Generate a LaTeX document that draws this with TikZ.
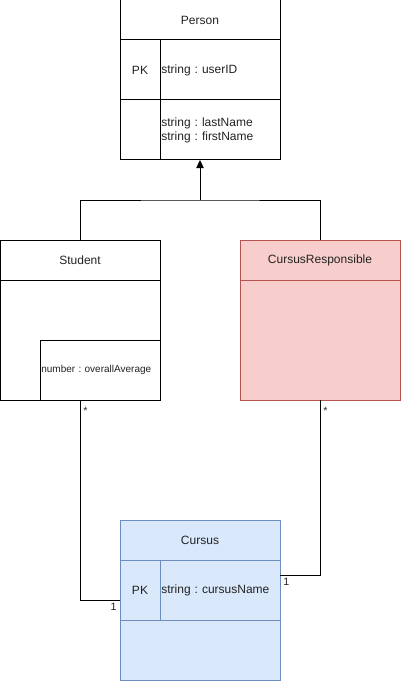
\documentclass[tikz,border=0pt]{standalone}
\usepackage{fontspec}
\setmainfont{Liberation Sans}
\usetikzlibrary{arrows.meta}
\definecolor{redfill}{HTML}{F8CECC}
\definecolor{redline}{HTML}{B85450}
\definecolor{bluefill}{HTML}{DAE8FC}
\definecolor{blueline}{HTML}{6C8EBF}
\definecolor{textgray}{HTML}{222222}
\frenchspacing

\begin{document}
\begin{tikzpicture}[x=0.75pt,y=-0.75pt,line width=0.75pt,>={Triangle[length=6pt,width=5.5pt]},
  every node/.style={inner sep=0pt,outer sep=0pt,text=textgray,font=\fontsize{9}{10.5}\selectfont},
  class/.style={draw,anchor=north west,minimum width=120pt,minimum height=120pt},
  header/.style={draw,anchor=north west,minimum width=120pt,minimum height=30pt},
  key/.style={draw,anchor=north west,minimum width=30pt,minimum height=45pt},
  field/.style={draw,anchor=north west,minimum width=90pt,minimum height=45pt,
    text width=88pt,inner xsep=1pt,align=left},
  redbox/.style={fill=redfill,draw=redline},
  bluebox/.style={fill=bluefill,draw=blueline},
  mult/.style={font=\fontsize{8}{9.5}\selectfont}]

  \useasboundingbox (0,0) rectangle (401,681);

  % Person
  \node[class] (person) at (120,0) {};
  \node[header] (personhead) at (120,0) {Person};
  \node[key] (personpk) at (120,40) {PK};
  \node[field] (personid) at (160,40) {string : userID};
  \node[key] (personblank) at (120,100) {};
  \node[field] (personname) at (160,100) {string : lastName\\string : firstName};

  % Student
  \node[class] (student) at (0,240) {};
  \node[header] (studenthead) at (0,240) {Student};
  \node[field,font=\fontsize{7.5}{9}\selectfont] (studentavg) at (40,340) {number : overallAverage};

  % CursusResponsible
  \node[class,redbox] (responsible) at (240,240) {};
  \node[header,redbox] (responsiblehead) at (240,240) {CursusResponsible};

  % Cursus
  \node[class,bluebox] (cursus) at (120,520) {};
  \node[header,bluebox] (cursushead) at (120,520) {Cursus};
  \node[key,bluebox] (cursuspk) at (120,560) {PK};
  \node[field,bluebox] (cursusname) at (160,560) {string : cursusName};

  % inheritance
  \coordinate (split) at (200,200);
  \draw[->] (split) -- (person.south);
  \draw (student.north) |- (split) -| (responsible.north);

  % associations
  \draw (student.south) node[mult,anchor=north west,xshift=2.5pt,yshift=-5pt] {*}
    |- (cursus.west) node[mult,anchor=north east,xshift=-2.5pt,yshift=-2pt] {1};
  \draw (responsible.south) node[mult,anchor=north west,xshift=2.5pt,yshift=-5pt] {*}
    |- ([yshift=18.75pt]cursus.east) node[mult,anchor=north west,xshift=2.5pt,yshift=-2pt] {1};
\end{tikzpicture}
\end{document}
